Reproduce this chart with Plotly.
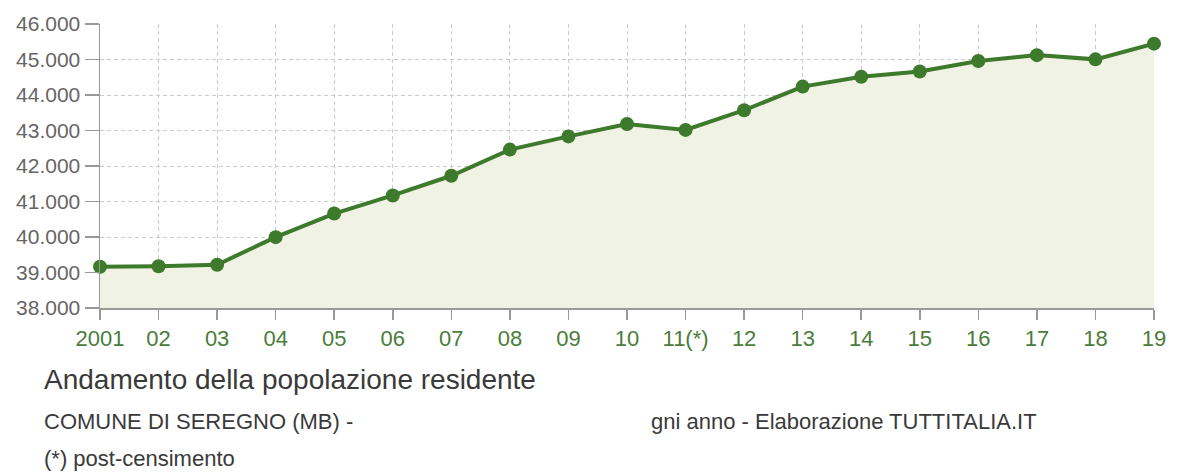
import plotly.graph_objects as go

years = ["2001", "02", "03", "04", "05", "06", "07", "08", "09", "10",
         "11(*)", "12", "13", "14", "15", "16", "17", "18", "19"]
population = [39164, 39175, 39220, 39996, 40661, 41170, 41725, 42462, 42834, 43183,
              43017, 43571, 44236, 44513, 44662, 44957, 45123, 45004, 45447]
y_ticks = [38000, 39000, 40000, 41000, 42000, 43000, 44000, 45000, 46000]

W, H = 1178, 473
# plot area in figure pixels
X0, X1, Y0, Y1 = 100, 1160, 19, 308
L, T = X0, Y0
R, B = W - X1, H - Y1
pw, ph = X1 - X0, Y1 - Y0

def px(x):
    return (x - X0) / pw

def py(y):
    return (Y1 - y) / ph

fig = go.Figure()
fig.add_trace(go.Scatter(
    x=list(range(len(years))), y=population, mode="lines+markers",
    line=dict(color="#3d7a2c", width=4),
    marker=dict(color="#3d7a2c", size=14),
    fill="tozeroy", fillcolor="#f0f2e3",
    cliponaxis=False, hoverinfo="skip",
))

font = "Liberation Sans, Arial, sans-serif"
grid = dict(showgrid=True, gridcolor="#cccccc", griddash="4px,3px", gridwidth=1)
fig.update_layout(
    width=W, height=H,
    margin=dict(l=L, r=R, t=T, b=B),
    plot_bgcolor="white", paper_bgcolor="white",
    separators=",.",
    showlegend=False,
    font=dict(family=font),
    xaxis=dict(
        tickmode="array", tickvals=list(range(len(years))), ticktext=years,
        range=[0, len(years) - 1],
        showline=True, linecolor="#999999", linewidth=1.5,
        ticks="outside", ticklen=10, tickcolor="#999999", tickwidth=1.5,
        tickfont=dict(size=22, color="#4a7d3a", family=font),
        ticklabeloverflow="allow",
        zeroline=False, fixedrange=True, **grid,
    ),
    yaxis=dict(
        range=[38000, 46000], tickvals=y_ticks, tickformat=",d",
        showline=True, linecolor="#999999", linewidth=1.5,
        ticks="outside", ticklen=14, tickcolor="#999999", tickwidth=1.5,
        tickfont=dict(size=21, color="#666666", family=font),
        ticklabeloverflow="allow",
        zeroline=False, fixedrange=True, **grid,
    ),
)

annos = [
    ("Andamento della popolazione residente", 42, 381, 28, "#3a3a3a"),
    ("COMUNE DI SEREGNO (MB) -", 42, 423, 22, "#3a3a3a"),
    ("gni anno - Elaborazione TUTTITALIA.IT", 652, 423, 22, "#3a3a3a"),
    ("(*) post-censimento", 42, 461, 22, "#3a3a3a"),
]
for text, x, y, size, color in annos:
    fig.add_annotation(
        text=text, xref="paper", yref="paper", x=px(x), y=py(y),
        xanchor="left", yanchor="middle", showarrow=False,
        font=dict(size=size, color=color, family=font),
    )

fig.write_html(
    "out.html",
    config={"displayModeBar": False, "staticPlot": True},
    post_script="document.body.style.margin='0';document.body.style.overflow='hidden';",
)
